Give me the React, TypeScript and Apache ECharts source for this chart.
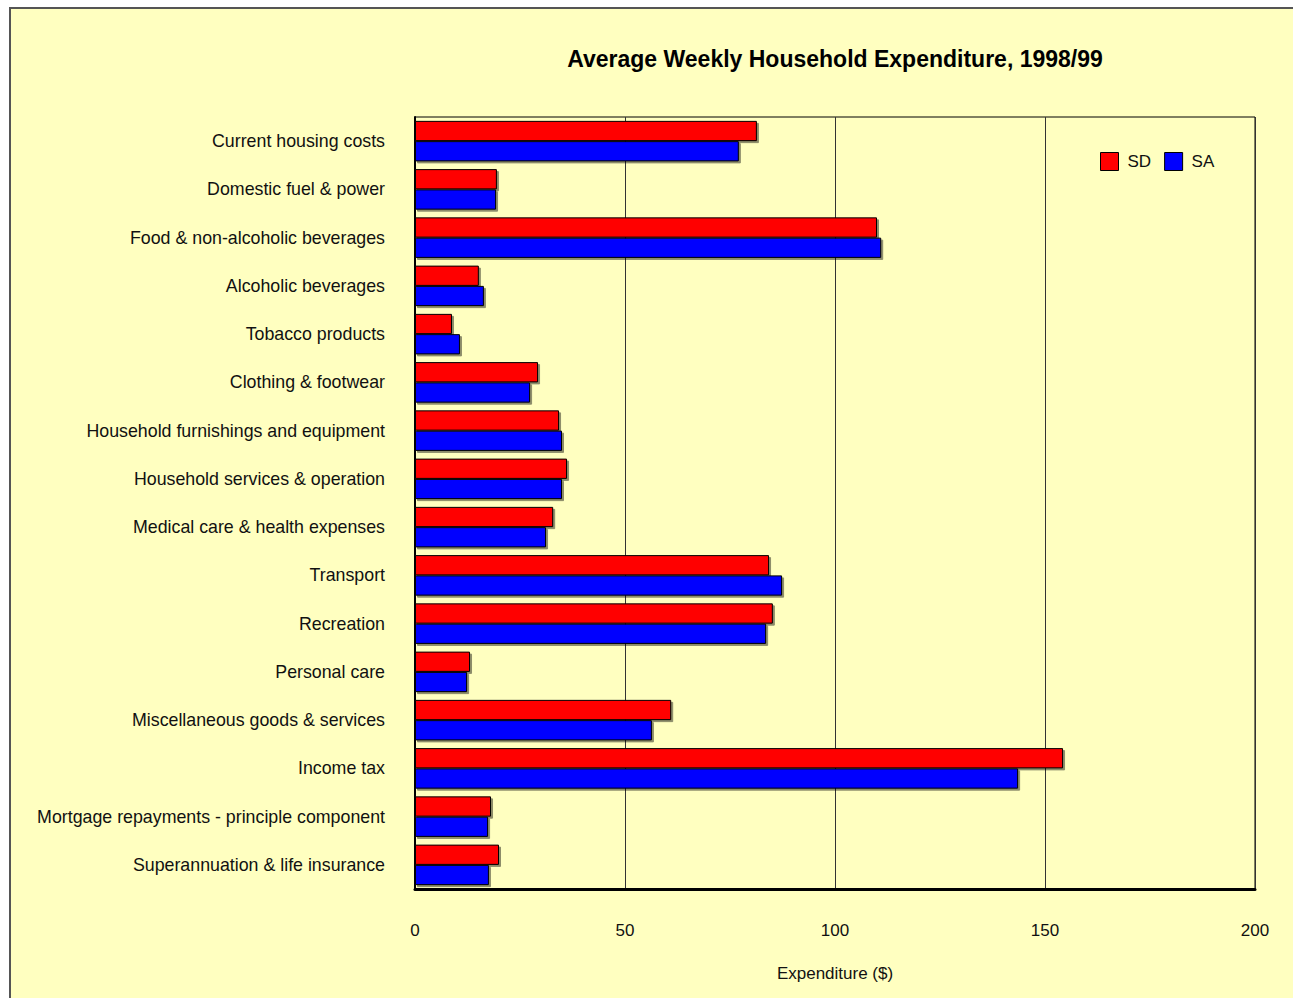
import React, { useEffect, useRef } from "react";
import * as echarts from "echarts";

const categories = [
  "Current housing costs",
  "Domestic fuel & power",
  "Food & non-alcoholic beverages",
  "Alcoholic beverages",
  "Tobacco products",
  "Clothing & footwear",
  "Household furnishings and equipment",
  "Household services & operation",
  "Medical care & health expenses",
  "Transport",
  "Recreation",
  "Personal care",
  "Miscellaneous goods & services",
  "Income tax",
  "Mortgage repayments - principle component",
  "Superannuation & life insurance",
];

const sdValues = [81.4, 19.5, 110.0, 15.2, 8.8, 29.3, 34.3, 36.2, 32.9, 84.3, 85.2, 13.1, 61.0, 154.3, 18.1, 20.0];
const saValues = [77.1, 19.3, 111.0, 16.4, 10.7, 27.4, 35.0, 35.0, 31.2, 87.4, 83.6, 12.4, 56.4, 143.6, 17.4, 17.6];

const xTicks = [0, 50, 100, 150, 200];

const FONT = "'Liberation Sans', Arial, sans-serif";

export default function App() {
  const ref = useRef<HTMLDivElement>(null);
  useEffect(() => {
    if (!ref.current) return;
    const chart = echarts.init(ref.current, undefined, { renderer: "svg" });
    const barStyle = (color: string) => ({
      color,
      borderColor: "#000",
      borderWidth: 1,
      shadowColor: "rgba(0,0,0,0.45)",
      shadowOffsetX: 2,
      shadowOffsetY: 2,
      shadowBlur: 0,
    });
    chart.setOption({
      animation: false,
      backgroundColor: "#FFFFFF",
      graphic: [
        {
          type: "rect",
          z: -10,
          silent: true,
          shape: { x: 10, y: 8, width: 1300, height: 1010 },
          style: { fill: "#FFFFC0", stroke: "#555", lineWidth: 2 },
        },
      ],
      title: {
        text: "Average Weekly Household Expenditure, 1998/99",
        left: 830,
        textAlign: "center",
        top: 42,
        textStyle: {
          fontFamily: FONT,
          fontWeight: "bold",
          fontSize: 23,
          color: "#000",
        },
      },
      legend: {
        data: ["SD", "SA"],
        left: 1095,
        top: 147,
        itemWidth: 18,
        itemHeight: 18,
        itemGap: 13,
        icon: "rect",
        textStyle: { fontFamily: FONT, fontSize: 17, color: "#111", padding: [6, 0, 0, 4] },
        itemStyle: { borderColor: "#000", borderWidth: 1 },
      },
      grid: {
        left: 415,
        right: 38,
        top: 117,
        bottom: 109,
        show: true,
        borderColor: "#000",
        borderWidth: 1,
        backgroundColor: "transparent",
      },
      xAxis: {
        type: "value",
        min: 0,
        max: 200,
        interval: 50,
        name: "Expenditure ($)",
        nameLocation: "middle",
        nameGap: 76,
        nameTextStyle: { fontFamily: FONT, fontSize: 17, color: "#111" },
        axisLine: { show: true, lineStyle: { color: "#000", width: 3 } },
        axisTick: { show: false },
        axisLabel: {
          fontFamily: FONT,
          fontSize: 17,
          color: "#111",
          margin: 33,
          formatter: (v: number) => (xTicks.includes(v) ? String(v) : ""),
        },
        splitLine: { show: true, lineStyle: { color: "#333", width: 1 } },
      },
      yAxis: {
        type: "category",
        data: categories,
        inverse: true,
        axisLine: { show: true, lineStyle: { color: "#000", width: 2 } },
        axisTick: { show: false },
        axisLabel: {
          fontFamily: FONT,
          fontSize: 17.8,
          color: "#111",
          margin: 30,
        },
        splitLine: { show: false },
      },
      series: [
        {
          name: "SD",
          type: "bar",
          data: sdValues,
          barGap: "0%",
          barCategoryGap: "16%",
          itemStyle: barStyle("#FF0000"),
        },
        {
          name: "SA",
          type: "bar",
          data: saValues,
          barGap: "0%",
          barCategoryGap: "16%",
          itemStyle: barStyle("#0000FF"),
        },
      ],
    });
    return () => chart.dispose();
  }, []);
  return (
    <div
      ref={ref}
      style={{ position: "fixed", left: 0, top: 0, width: 1293, height: 998 }}
    />
  );
}
